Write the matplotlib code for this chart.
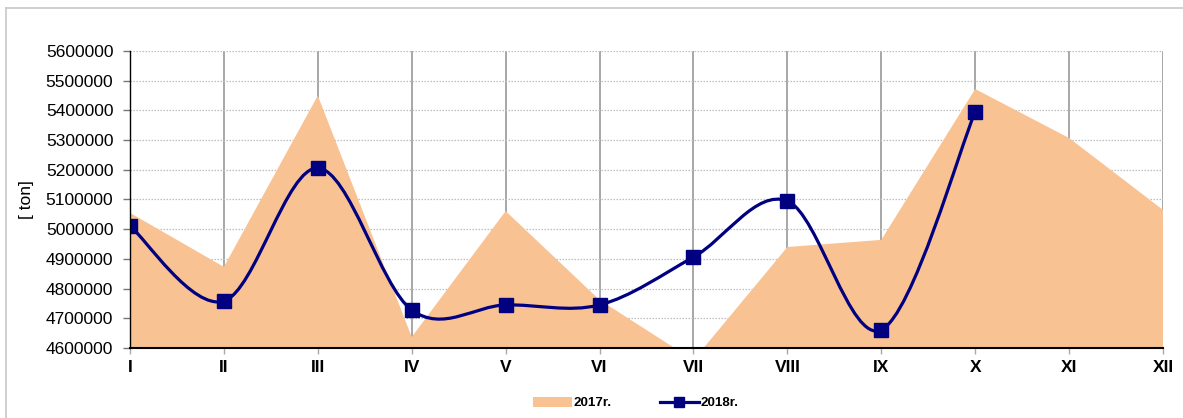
import numpy as np
import matplotlib.pyplot as plt
from matplotlib.path import Path
from matplotlib.patches import PathPatch, Patch
from matplotlib.lines import Line2D

months = ["I", "II", "III", "IV", "V", "VI", "VII", "VIII", "IX", "X", "XI", "XII"]
y2017 = [5055000, 4873000, 5450000, 4637000, 5061000, 4762000,
         4559000, 4940000, 4964000, 5472000, 5307000, 5065000]
y2018 = [5011000, 4758000, 5206000, 4728000, 4745000, 4745000,
         4906000, 5095000, 4661000, 5395000]
yticks = list(range(4600000, 5600001, 100000))

AREA = '#F9C293'
NAVY = '#000080'


def smooth_path(xs, ys):
    # excel-style smoothed line: cubic bezier, control points from neighbours
    pts = np.column_stack([xs, ys]).astype(float)
    n = len(pts)
    verts = [pts[0]]
    codes = [Path.MOVETO]
    for i in range(n - 1):
        p0 = pts[i - 1] if i > 0 else pts[i]
        p1, p2 = pts[i], pts[i + 1]
        p3 = pts[i + 2] if i + 2 < n else pts[i + 1]
        c1 = p1 + (p2 - p0) / 6
        c2 = p2 - (p3 - p1) / 6
        verts += [c1, c2, p2]
        codes += [Path.CURVE4] * 3
    return Path(verts, codes)


plt.rcParams['font.family'] = ['Liberation Sans', 'DejaVu Sans']

fig = plt.figure(figsize=(11.83, 4.18), dpi=100)
ax = fig.add_axes([130 / 1183, 1 - 348 / 418, 1033 / 1183, 297 / 418])

x = np.arange(len(months))
ax.fill_between(x, 4000000, y2017, color=AREA, lw=0, zorder=1)
# area clipped at the axis minimum leaves a thin strip along the bottom
ax.axhspan(4600000, 4604000, color=AREA, lw=0, zorder=1)

x18 = np.arange(len(y2018))
# smooth in picture proportions so the curve shape follows the reference
sx, sy = 93.9, 297 / 1e6
path = smooth_path(x18 * sx, np.array(y2018) * sy)
path = Path(path.vertices / [sx, sy], path.codes)
ax.add_patch(PathPatch(path, fill=False, edgecolor=NAVY, lw=2.3, zorder=3,
                       capstyle='round', joinstyle='round'))
ax.plot(x18, y2018, ls='none', marker='s', ms=9.5, color=NAVY, zorder=4)

ax.set_xlim(0, 11)
ax.set_ylim(4600000, 5600000)
ax.set_xticks(x)
ax.set_xticklabels(months, fontsize=12.5, fontweight='bold')
ax.set_yticks(yticks)
ax.set_yticklabels([str(v) for v in yticks], fontsize=12.5)

ax.set_axisbelow(True)
for v in x:
    ax.axvline(v, color='#a0a0a0', lw=1.3, zorder=0.5)
for v in yticks:
    ax.axhline(v, color='#bdbdbd', lw=0.9, ls=(0, (1.2, 1.2)), zorder=0.5)

ax.tick_params(axis='x', length=4, width=1, color='#aaaaaa', pad=5)
ax.tick_params(axis='y', length=5, width=1, color='#777777', pad=7)
for s in ['top', 'right']:
    ax.spines[s].set_visible(False)
ax.spines['left'].set_linewidth(1.0)
ax.spines['bottom'].set_linewidth(1.5)
ax.spines['left'].set_zorder(5)
ax.spines['bottom'].set_zorder(5)

fig.text(27 / 1183, 1 - 200 / 418, '[ ton]', rotation=90, fontsize=12.5,
         ha='center', va='center')

handles = [Patch(facecolor=AREA, edgecolor='none'),
           Line2D([], [], color=NAVY, lw=2.3, marker='s', ms=7)]
fig.legend(handles, ['2017r.', '2018r.'], loc='center',
           bbox_to_anchor=(636 / 1183, 1 - 403 / 418), ncol=2, frameon=False,
           prop={'size': 9.6, 'weight': 'bold'}, handlelength=2.9,
           handleheight=0.85, handletextpad=0.15, columnspacing=3.6)

# outer chart border
fig.add_artist(Line2D([5.5 / 1183, 5.5 / 1183], [0, 1 - 7.5 / 418],
                      color='#c8c8c8', lw=1.2))
fig.add_artist(Line2D([5.5 / 1183, 1], [1 - 7.5 / 418, 1 - 7.5 / 418],
                      color='#c8c8c8', lw=1.2))

fig.savefig('out.png', dpi=100)
